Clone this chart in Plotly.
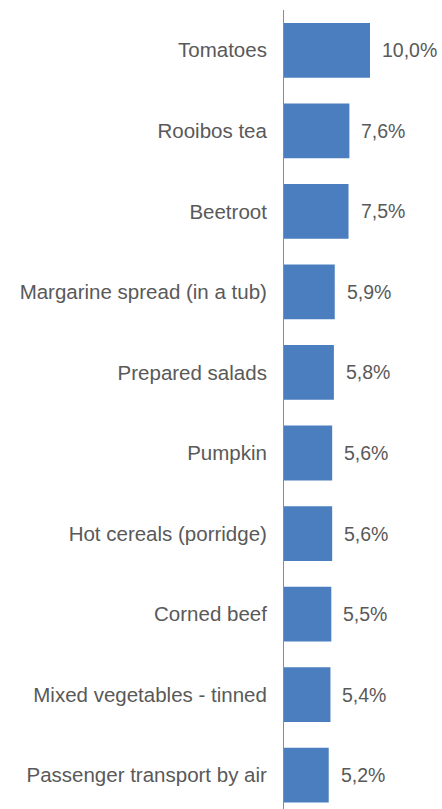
import plotly.graph_objects as go

categories = [
    "Tomatoes",
    "Rooibos tea",
    "Beetroot",
    "Margarine spread (in a tub)",
    "Prepared salads",
    "Pumpkin",
    "Hot cereals (porridge)",
    "Corned beef",
    "Mixed vegetables - tinned",
    "Passenger transport by air",
]
values = [10.0, 7.6, 7.5, 5.9, 5.8, 5.6, 5.6, 5.5, 5.4, 5.2]
value_labels = [f"{v:.1f}%".replace(".", ",") for v in values]

FONT = "Liberation Sans Narrow, Arial Narrow, Liberation Sans, Arial, sans-serif"
GREY = "#595959"

fig = go.Figure(
    go.Bar(
        x=values,
        y=categories,
        orientation="h",
        marker=dict(color="#4A7EBF", line=dict(width=0)),
        width=0.68,
        hoverinfo="skip",
    )
)

for cat, v, lab in zip(categories, values, value_labels):
    fig.add_annotation(
        x=v, y=cat, text=lab, showarrow=False,
        xanchor="left", xshift=10,
        font=dict(family=FONT, size=19.5, color=GREY),
    )

fig.update_layout(
    width=442, height=809,
    margin=dict(l=284, r=0, t=10, b=0),
    paper_bgcolor="white", plot_bgcolor="white",
    showlegend=False,
    font=dict(family=FONT, size=20, color=GREY),
)
fig.update_xaxes(range=[0, 18.37], visible=False, fixedrange=True)
fig.update_yaxes(
    categoryorder="array", categoryarray=categories,
    range=[9.42, -0.5],
    showgrid=False, zeroline=False,
    showline=True, linecolor="#8c8c8c", linewidth=1,
    ticks="", ticklabelstandoff=12,
    tickfont=dict(family=FONT, size=20.5, color=GREY),
    fixedrange=True,
)

fig.write_html("out.html")
